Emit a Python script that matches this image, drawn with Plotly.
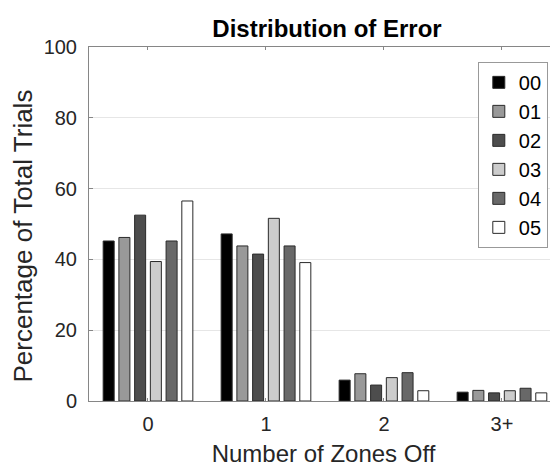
import plotly.graph_objects as go

categories = ["0", "1", "2", "3+"]
series_names = ["00", "01", "02", "03", "04", "05"]
s00 = [45.2, 47.2, 5.9, 2.5]
s01 = [46.2, 43.8, 7.7, 3.0]
s02 = [52.5, 41.5, 4.5, 2.3]
s03 = [39.4, 51.6, 6.6, 2.9]
s04 = [45.2, 43.8, 8.0, 3.6]
s05 = [56.5, 39.1, 2.9, 2.3]
values = [s00, s01, s02, s03, s04, s05]
colors = ["#000000", "#999999", "#4d4d4d", "#cccccc", "#686868", "#ffffff"]

FONT = "Liberation Sans, Arial, sans-serif"
fig = go.Figure()
for name, vals, col in zip(series_names, values, colors):
    fig.add_trace(go.Bar(
        x=categories, y=vals, name=name,
        marker=dict(color=col, line=dict(color="#2a2a2a", width=1)),
    ))

# page body adds an 8px margin, so the figure is drawn 8px in from the window corner
fig.update_layout(
    width=550, height=459,
    margin=dict(l=81, r=0, t=39, b=66, autoexpand=False),
    paper_bgcolor="white", plot_bgcolor="white",
    barmode="group", bargap=0.2, bargroupgap=0.3,
    font=dict(family=FONT, size=20, color="#262626"),
    title=dict(text="<b>Distribution of Error</b>", x=0.58, xanchor="center",
               y=0.956, yanchor="middle", font=dict(family=FONT, size=24, color="#000000")),
    legend=dict(x=0.829, y=0.958, xanchor="left", yanchor="top",
                bgcolor="white", bordercolor="#999999", borderwidth=1,
                font=dict(family=FONT, size=20, color="#000000"),
                tracegroupgap=0, itemwidth=30),
    showlegend=True,
    annotations=[dict(
        text="Percentage of Total Trials", textangle=-90, showarrow=False,
        xref="paper", yref="paper", x=-0.1407, y=0.4647,
        xanchor="center", yanchor="middle",
        font=dict(family=FONT, size=26, color="#262626"),
    )],
)
fig.update_xaxes(
    range=[-0.5, 3.475], showline=True, linecolor="#868686", linewidth=1,
    mirror="ticks", ticks="inside", ticklen=3, tickcolor="#868686",
    showgrid=False, zeroline=False, automargin=False, ticklabelstandoff=5,
    title=dict(text="Number of Zones Off", font=dict(family=FONT, size=24, color="#262626"), standoff=13),
    tickfont=dict(family=FONT, size=20, color="#262626"),
)
fig.update_yaxes(
    range=[0, 100], dtick=20, showline=True, linecolor="#868686", linewidth=1,
    mirror="ticks", ticks="inside", ticklen=4, tickcolor="#868686",
    showgrid=True, gridcolor="#e6e6e6", zeroline=False, automargin=False,
    ticklabelstandoff=7,
    tickfont=dict(family=FONT, size=20, color="#262626"),
)

fig.write_html("out.html")
